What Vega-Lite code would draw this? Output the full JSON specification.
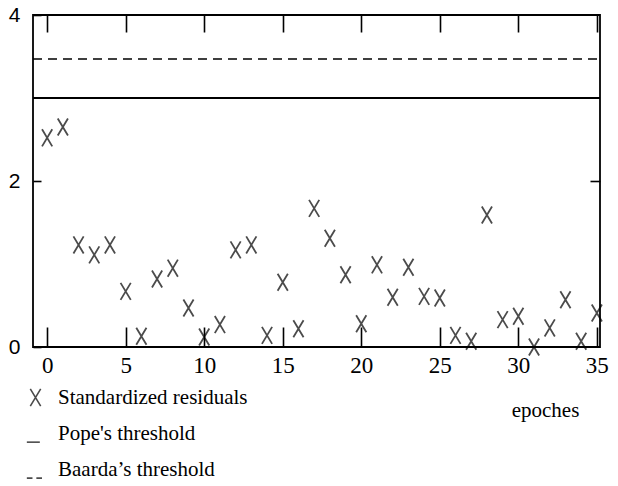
{
  "$schema": "https://vega.github.io/schema/vega-lite/v6.json",
  "width": 567,
  "height": 332,
  "autosize": {"type": "none"},
  "padding": {"left": 33, "top": 15, "right": 18, "bottom": 139},
  "background": "white",
  "config": {
    "view": {"stroke": "black", "strokeWidth": 1.8},
    "axis": {"grid": false, "domain": false, "tickColor": "black", "tickWidth": 1.6, "labelColor": "black", "titleColor": "black"}
  },
  "datasets": {
    "residuals": [
      {"epoch": 0, "residual": 2.52}, {"epoch": 1, "residual": 2.65}, {"epoch": 2, "residual": 1.23},
      {"epoch": 3, "residual": 1.11}, {"epoch": 4, "residual": 1.23}, {"epoch": 5, "residual": 0.67},
      {"epoch": 6, "residual": 0.13}, {"epoch": 7, "residual": 0.82}, {"epoch": 8, "residual": 0.95},
      {"epoch": 9, "residual": 0.47}, {"epoch": 10, "residual": 0.12}, {"epoch": 11, "residual": 0.27},
      {"epoch": 12, "residual": 1.17}, {"epoch": 13, "residual": 1.23}, {"epoch": 14, "residual": 0.14},
      {"epoch": 15, "residual": 0.78}, {"epoch": 16, "residual": 0.22}, {"epoch": 17, "residual": 1.67},
      {"epoch": 18, "residual": 1.31}, {"epoch": 19, "residual": 0.87}, {"epoch": 20, "residual": 0.28},
      {"epoch": 21, "residual": 0.99}, {"epoch": 22, "residual": 0.6}, {"epoch": 23, "residual": 0.96},
      {"epoch": 24, "residual": 0.61}, {"epoch": 25, "residual": 0.59}, {"epoch": 26, "residual": 0.14},
      {"epoch": 27, "residual": 0.07}, {"epoch": 28, "residual": 1.59}, {"epoch": 29, "residual": 0.33},
      {"epoch": 30, "residual": 0.37}, {"epoch": 31, "residual": 0.0}, {"epoch": 32, "residual": 0.23},
      {"epoch": 33, "residual": 0.57}, {"epoch": 34, "residual": 0.07}, {"epoch": 35, "residual": 0.41}
    ],
    "pope": [{"threshold": "Pope's threshold", "value": 3.0}],
    "baarda": [{"threshold": "Baarda’s threshold", "value": 3.47}]
  },
  "layer": [
    {
      "data": {"name": "residuals"},
      "mark": {"type": "point", "filled": false, "color": "black", "strokeWidth": 1.8, "size": 290, "clip": false},
      "encoding": {
        "x": {
          "field": "epoch", "type": "quantitative",
          "scale": {"domain": [-0.9, 35.2], "nice": false, "zero": false},
          "axis": {
            "orient": "bottom", "values": [0, 5, 10, 15, 20, 25, 30, 35], "tickSize": -20,
            "labelFont": "Liberation Serif", "labelFontSize": 23, "labelPadding": 27,
            "title": "epoches", "titleFont": "Liberation Serif", "titleFontSize": 21, "titleFontWeight": "normal",
            "titleX": 512, "titleY": 63, "titleAlign": "center", "titleBaseline": "middle"
          }
        },
        "y": {
          "field": "residual", "type": "quantitative",
          "scale": {"domain": [0, 4], "nice": false},
          "axis": {
            "orient": "left", "values": [0, 2, 4], "tickSize": -8, "title": null,
            "labelFont": "Liberation Sans", "labelFontSize": 21, "labelPadding": 21
          }
        },
        "shape": {
          "datum": "Standardized residuals",
          "scale": {
            "domain": ["Standardized residuals", "Pope's threshold", "Baarda’s threshold"],
            "range": ["M-0.6,-1L0.6,1M0.6,-1L-0.6,1", "M-1,1L0.5,1", "M-1,1L-0.35,1M0.1,1L0.75,1"]
          },
          "legend": {
            "orient": "none", "legendX": -8, "legendY": 372, "title": null,
            "labelFont": "Liberation Serif", "labelFontSize": 21, "labelColor": "black", "labelLimit": 400,
            "symbolSize": 300, "symbolStrokeWidth": 1.6, "symbolStrokeColor": "black",
            "rowPadding": 12, "labelOffset": 12, "padding": 0
          }
        }
      }
    },
    {
      "data": {"name": "pope"},
      "mark": {"type": "rule", "color": "black", "strokeWidth": 1.8},
      "encoding": {
        "y": {
          "field": "value", "type": "quantitative",
          "axis": {"orient": "right", "values": [2], "tickSize": -10, "labels": false, "title": null}
        }
      }
    },
    {
      "data": {"name": "baarda"},
      "mark": {"type": "rule", "color": "black", "strokeWidth": 1.5, "strokeDash": [9, 6]},
      "encoding": {
        "y": {"field": "value", "type": "quantitative", "axis": null},
        "x": {
          "datum": -0.9,
          "axis": {"orient": "top", "values": [0, 5, 10, 15, 20, 25, 30, 35], "tickSize": -17, "labels": false, "title": null}
        },
        "x2": {"datum": 35.2}
      }
    }
  ],
  "resolve": {"axis": {"x": "independent", "y": "independent"}}
}
